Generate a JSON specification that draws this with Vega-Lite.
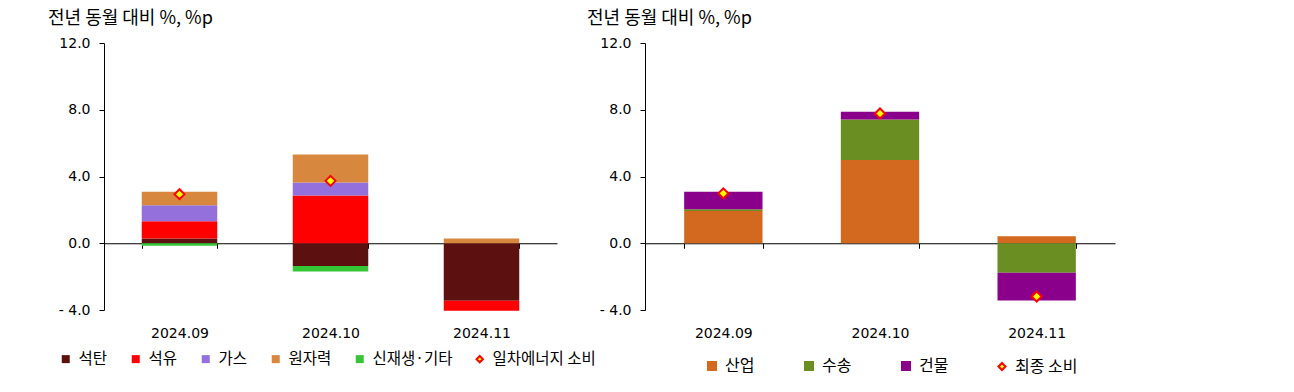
{
  "$schema": "https://vega.github.io/schema/vega-lite/v6.json",
  "padding": {"left": 48, "top": 10, "right": 5, "bottom": 5},
  "bounds": "flush",
  "spacing": 88,
  "resolve": {"scale": {"color": "independent"}, "legend": {"color": "independent"}},
  "config": {
    "view": {"stroke": null},
    "font": "Noto Sans CJK KR",
    "axis": {"labelFont": "DejaVu Sans", "labelColor": "#000000", "labelFontSize": 14, "grid": false, "domainColor": "#000000", "tickColor": "#000000", "zindex": 1}
  },
  "datasets": {
    "left": [
      {"month": "2024.09", "src": "석탄", "idx": 1, "value": 0.28},
      {"month": "2024.09", "src": "석유", "idx": 2, "value": 1.04},
      {"month": "2024.09", "src": "가스", "idx": 3, "value": 0.96},
      {"month": "2024.09", "src": "원자력", "idx": 4, "value": 0.80},
      {"month": "2024.09", "src": "신재생·기타", "idx": 5, "value": -0.15},
      {"month": "2024.10", "src": "석탄", "idx": 1, "value": -1.36},
      {"month": "2024.10", "src": "석유", "idx": 2, "value": 2.86},
      {"month": "2024.10", "src": "가스", "idx": 3, "value": 0.78},
      {"month": "2024.10", "src": "원자력", "idx": 4, "value": 1.68},
      {"month": "2024.10", "src": "신재생·기타", "idx": 5, "value": -0.34},
      {"month": "2024.11", "src": "석탄", "idx": 1, "value": -3.45},
      {"month": "2024.11", "src": "석유", "idx": 2, "value": -0.59},
      {"month": "2024.11", "src": "가스", "idx": 3, "value": 0.0},
      {"month": "2024.11", "src": "원자력", "idx": 4, "value": 0.28},
      {"month": "2024.11", "src": "신재생·기타", "idx": 5, "value": 0.0}
    ],
    "leftTotal": [
      {"month": "2024.09", "src": "일차에너지 소비", "value": 2.94},
      {"month": "2024.10", "src": "일차에너지 소비", "value": 3.74}
    ],
    "right": [
      {"month": "2024.09", "src": "산업", "idx": 1, "value": 1.94},
      {"month": "2024.09", "src": "수송", "idx": 2, "value": 0.10},
      {"month": "2024.09", "src": "건물", "idx": 3, "value": 1.05},
      {"month": "2024.10", "src": "산업", "idx": 1, "value": 4.99},
      {"month": "2024.10", "src": "수송", "idx": 2, "value": 2.43},
      {"month": "2024.10", "src": "건물", "idx": 3, "value": 0.46},
      {"month": "2024.11", "src": "산업", "idx": 1, "value": 0.42},
      {"month": "2024.11", "src": "수송", "idx": 2, "value": -1.77},
      {"month": "2024.11", "src": "건물", "idx": 3, "value": -1.66}
    ],
    "rightTotal": [
      {"month": "2024.09", "src": "최종 소비", "value": 2.99},
      {"month": "2024.10", "src": "최종 소비", "value": 7.78},
      {"month": "2024.11", "src": "최종 소비", "value": -3.19}
    ]
  },
  "hconcat": [
    {
      "width": 453,
      "height": 267,
      "title": {"text": "전년 동월 대비 %, %p", "anchor": "start", "frame": "group", "dx": -56, "offset": 8, "fontSize": 18, "fontWeight": "normal", "color": "#000000", "font": "Noto Sans CJK KR"},
      "encoding": {
        "x": {"field": "month", "type": "nominal", "sort": null,
          "scale": {"paddingInner": 0.5, "paddingOuter": 0.25},
          "axis": {"title": null, "labelAngle": 0, "orient": "bottom", "offset": -66.75, "tickBand": "extent", "tickSize": 5, "labelPadding": 78}},
        "y": {"field": "value", "type": "quantitative",
          "scale": {"domain": [-4, 12], "nice": false, "zero": false},
          "axis": {"title": null, "values": [-4, 0, 4, 8, 12], "tickSize": 5, "labelPadding": 9,
            "labelExpr": "datum.value < 0 ? '- ' + format(-datum.value, '.1f') : format(datum.value, '.1f')"}}
      },
      "layer": [
        {
          "data": {"name": "left"},
          "mark": {"type": "bar"},
          "encoding": {
            "y": {"field": "value", "type": "quantitative", "stack": "zero"},
            "order": {"field": "idx", "type": "quantitative"},
            "color": {"field": "src", "type": "nominal",
              "scale": {"domain": ["석탄", "석유", "가스", "원자력", "신재생·기타", "일차에너지 소비"],
                "range": ["#5C1010", "#FF0000", "#9370DB", "#D8873F", "#36C536", "#FFFF00"]},
              "legend": {"title": null, "orient": "none", "direction": "horizontal", "columns": 6,
                "legendX": -46, "legendY": 308, "labelFontSize": 15.5, "labelFont": "Noto Sans CJK KR", "labelColor": "#000000",
                "symbolType": "square", "symbolSize": 64, "columnPadding": 19, "labelOffset": 5,
                "encode": {"symbols": {"update": {
                  "shape": {"signal": "datum.value === '일차에너지 소비' ? 'diamond' : 'square'"},
                  "stroke": {"signal": "datum.value === '일차에너지 소비' ? '#FF0000' : 'transparent'"},
                  "size": {"signal": "datum.value === '일차에너지 소비' ? 40 : 64"},
                  "strokeWidth": {"value": 2}
                }}}}}
          }
        },
        {
          "data": {"name": "leftTotal"},
          "mark": {"type": "point", "shape": "diamond", "filled": true, "size": 100, "stroke": "#FF0000", "strokeWidth": 2, "opacity": 1},
          "encoding": {
            "color": {"field": "src", "type": "nominal"}
          }
        }
      ]
    },
    {
      "width": 470,
      "height": 267,
      "title": {"text": "전년 동월 대비 %, %p", "anchor": "start", "frame": "group", "dx": -58, "offset": 8, "fontSize": 18, "fontWeight": "normal", "color": "#000000", "font": "Noto Sans CJK KR"},
      "encoding": {
        "x": {"field": "month", "type": "nominal", "sort": null,
          "scale": {"paddingInner": 0.5, "paddingOuter": 0.25},
          "axis": {"title": null, "labelAngle": 0, "orient": "bottom", "offset": -66.75, "tickBand": "extent", "tickSize": 5, "labelPadding": 78}},
        "y": {"field": "value", "type": "quantitative",
          "scale": {"domain": [-4, 12], "nice": false, "zero": false},
          "axis": {"title": null, "values": [-4, 0, 4, 8, 12], "tickSize": 5, "labelPadding": 9,
            "labelExpr": "datum.value < 0 ? '- ' + format(-datum.value, '.1f') : format(datum.value, '.1f')"}}
      },
      "layer": [
        {
          "data": {"name": "right"},
          "mark": {"type": "bar"},
          "encoding": {
            "y": {"field": "value", "type": "quantitative", "stack": "zero"},
            "order": {"field": "idx", "type": "quantitative"},
            "color": {"field": "src", "type": "nominal",
              "scale": {"domain": ["산업", "수송", "건물", "최종 소비"],
                "range": ["#D2691E", "#6B8E23", "#8B008B", "#FFFF00"]},
              "legend": {"title": null, "orient": "none", "direction": "horizontal", "columns": 4,
                "legendX": 59, "legendY": 315, "labelFontSize": 16, "labelFont": "Noto Sans CJK KR", "labelColor": "#000000",
                "symbolType": "square", "symbolSize": 100, "columnPadding": 45, "labelOffset": 5,
                "encode": {"symbols": {"update": {
                  "shape": {"signal": "datum.value === '최종 소비' ? 'diamond' : 'square'"},
                  "stroke": {"signal": "datum.value === '최종 소비' ? '#FF0000' : 'transparent'"},
                  "size": {"signal": "datum.value === '최종 소비' ? 50 : 100"},
                  "strokeWidth": {"value": 2}
                }}}}}
          }
        },
        {
          "data": {"name": "rightTotal"},
          "mark": {"type": "point", "shape": "diamond", "filled": true, "size": 100, "stroke": "#FF0000", "strokeWidth": 2, "opacity": 1},
          "encoding": {
            "color": {"field": "src", "type": "nominal"}
          }
        }
      ]
    }
  ]
}
